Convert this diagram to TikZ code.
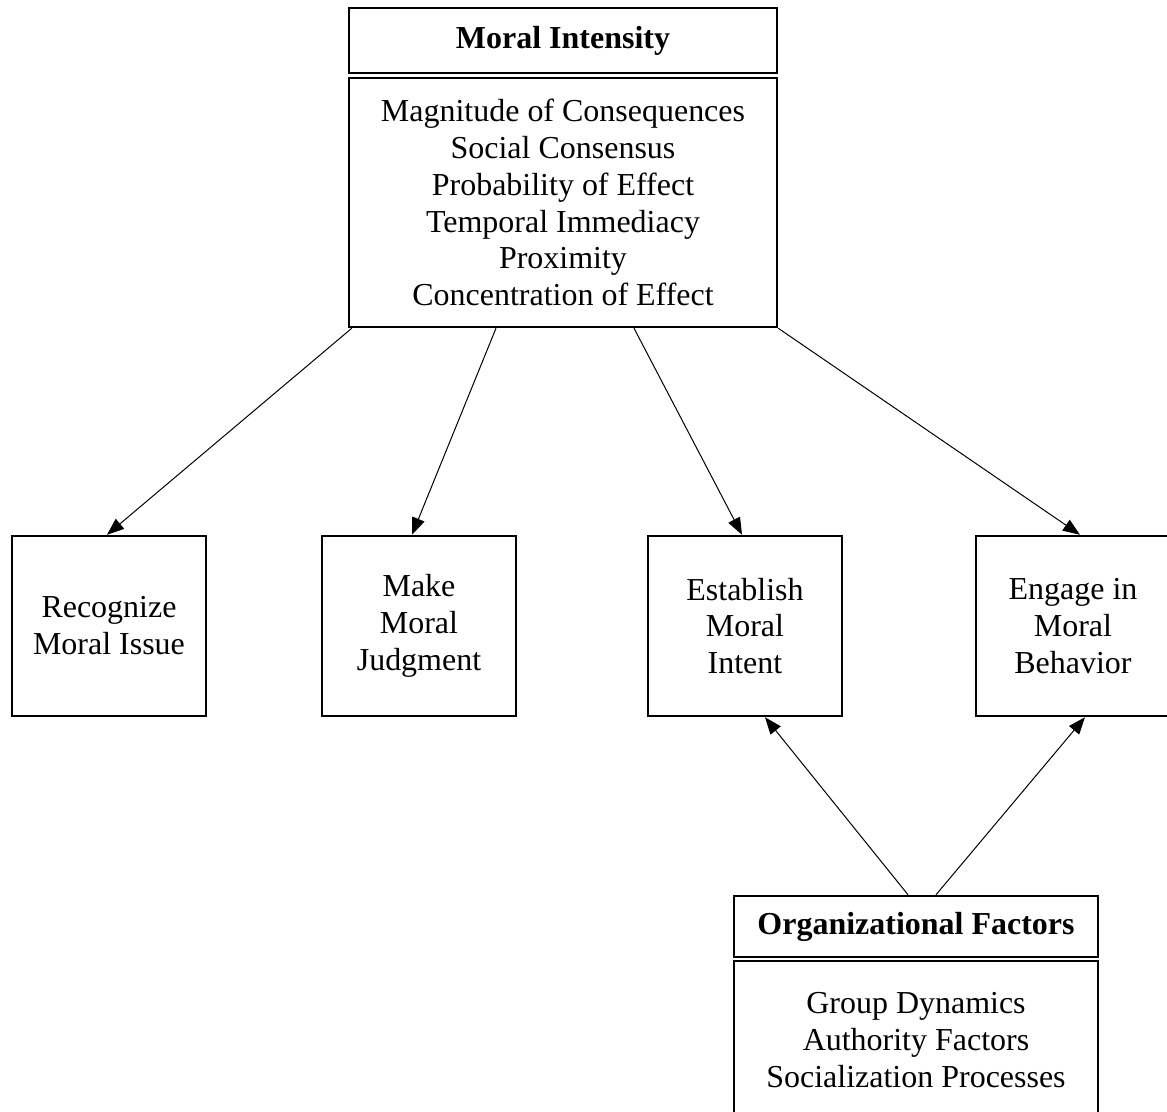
\documentclass[tikz,border=0pt]{standalone}
\usepackage{fontspec}
\setmainfont{Liberation Serif}
\usetikzlibrary{
  arrows.meta,
  calc
}

\begin{document}
\begin{tikzpicture}[
      x=0.02cm, y=-0.02cm,
      >={Triangle[length=0.34cm, width=0.26cm]},
      every node/.style={font=\fontsize{18.2}{21}\selectfont},
      caixa/.style={draw, line width=0.05cm, align=center, inner sep=0pt},
      titulo/.style={caixa, font=\fontsize{18.2}{21}\selectfont\bfseries},
      etapa/.style={caixa, minimum width=3.88cm, minimum height=3.6cm},
      seta/.style={->, line width=0.02cm}
  ]
      \useasboundingbox (0,0) rectangle (1167,1112);

      % Intensidade moral
      \node[titulo, minimum width=8.56cm, minimum height=1.3cm] (mit) at (563,40.5) {Moral Intensity};
      \node[caixa, minimum width=8.56cm, minimum height=4.98cm] (mi) at (563,202.5) {
          Magnitude of Consequences\\
          Social Consensus\\
          Probability of Effect\\
          Temporal Immediacy\\
          Proximity\\
          Concentration of Effect
      };

      % Etapas
      \node[etapa] (rec) at (109,626)  {Recognize\\ Moral Issue};
      \node[etapa] (mak) at (419,626)  {Make\\ Moral\\ Judgment};
      \node[etapa] (est) at (745,626)  {Establish\\ Moral\\ Intent};
      \node[etapa] (eng) at (1073,626) {Engage in\\ Moral\\ Behavior};

      % Fatores organizacionais
      \node[titulo, minimum width=7.28cm, minimum height=1.22cm] (oft) at (916,926.5) {Organizational Factors};
      \node[caixa, minimum width=7.28cm, minimum height=3.16cm] (of) at (916,1040) {
          Group Dynamics\\
          Authority Factors\\
          Socialization Processes
      };

      % Setas
      \draw[seta] ($(mi.south west)+(4,0)$) -- ($(rec.north)+(-2,0)$);
      \draw[seta] ($(mi.south)+(-67,0)$)    -- ($(mak.north)+(-7,0)$);
      \draw[seta] ($(mi.south)+(71,0)$)     -- ($(est.north)+(-3,0)$);
      \draw[seta] (mi.south east)           -- ($(eng.north)+(7,0)$);
      \draw[seta] ($(oft.north)+(-8,0)$)    -- ($(est.south)+(20,0)$);
      \draw[seta] ($(oft.north)+(20,0)$)    -- ($(eng.south)+(12,0)$);
  \end{tikzpicture}
\end{document}
